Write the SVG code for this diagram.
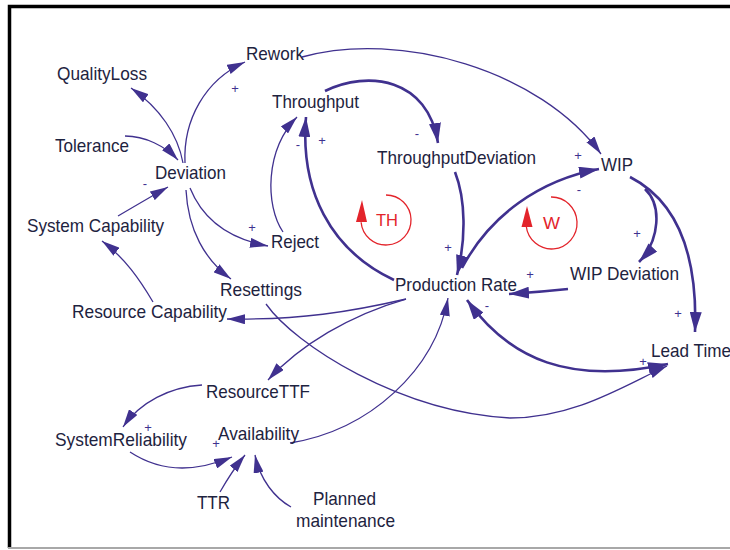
<svg xmlns="http://www.w3.org/2000/svg" width="730" height="550" viewBox="0 0 730 550">
  <style>
    .lbl { font-family: "Liberation Sans Narrow", "Liberation Sans", Arial, sans-serif; font-size: 19px; fill: #1e2340; }
    .pol { font-family: "Liberation Sans", Arial, sans-serif; font-size: 13px; fill: #40318f; text-anchor: middle; dominant-baseline: central; }
    .loop { font-family: "Liberation Sans", Arial, sans-serif; font-size: 17px; fill: #e3242b; }
    .thin { fill: none; stroke: #40318f; stroke-width: 1.3; marker-end: url(#ahs); }
    .thick { fill: none; stroke: #40318f; stroke-width: 2.6; marker-end: url(#ahl); }
    .ring { fill: none; stroke: #e3242b; stroke-width: 1.3; }
  </style>
  <defs>
    <marker id="ahs" markerUnits="userSpaceOnUse" markerWidth="18" markerHeight="10" refX="18" refY="5" orient="auto">
      <path d="M0,0 L18,5 L0,10 z" fill="#40318f"/>
    </marker>
    <marker id="ahl" markerUnits="userSpaceOnUse" markerWidth="20" markerHeight="12" refX="20" refY="6" orient="auto-start-reverse">
      <path d="M0,0 L20,6 L0,12 z" fill="#40318f"/>
    </marker>
  </defs>

  <rect width="730" height="550" fill="#ffffff"/>
  <!-- frame -->
  <path d="M9.5,548 V6.5 H730" fill="none" stroke="#000" stroke-width="3.5"/>
  <path d="M8,548 H730" fill="none" stroke="#a8a8a8" stroke-width="2"/>

  <g id="connectors">
    <path class="thin" d="M183,163 C178,135 160,108 131,88"/>
    <path class="thin" d="M125,136 C145,136 165,146 178,160"/>
    <path class="thin" d="M118,216 C135,206 152,196 168,187"/>
    <path class="thin" d="M185,163 C183,120 205,80 245,62"/>
    <path class="thin" d="M190,188 C205,225 235,240 268,246"/>
    <path class="thin" d="M186,190 C188,230 205,260 231,279"/>
    <path class="thin" d="M283,232 C265,205 265,150 297,117"/>
    <path class="thick" d="M394,280 C330,250 300,190 306,117"/>
    <path class="thick" d="M325,91 C368,70 428,78 438,143"/>
    <path class="thick" d="M455,172 C466,200 466,240 457,275"/>
    <path class="thin" d="M302,57 C400,30 540,70 601,154"/>
    <path class="thick" d="M462,268 C490,215 540,180 599,169"/>
    <path class="thick" d="M645,189 C662,205 660,240 639,262"/>
    <path class="thick" d="M630,177 C675,200 698,250 695,332"/>
    <path class="thick" d="M568,289 Q540,292 509,294"/>
    <path class="thick" d="M467,300 C510,360 570,385 668,364" marker-start="url(#ahl)"/>
    <path class="thin" d="M266,304 C295,345 400,412 510,418 C575,418 625,385 667,366"/>
    <path class="thin" d="M406,299 C350,312 300,320 227,319"/>
    <path class="thin" d="M406,299 C350,315 300,345 268,380"/>
    <path class="thin" d="M153,302 C140,280 125,258 102,241"/>
    <path class="thin" d="M202,385 C170,387 140,402 123,427"/>
    <path class="thin" d="M130,452 C165,475 200,470 232,457"/>
    <path class="thin" d="M220,492 C228,478 236,466 245,455"/>
    <path class="thin" d="M291,507 C275,498 260,480 255,455"/>
    <path class="thin" d="M290,443 C370,430 435,370 448,298"/>

    <!-- polarity signs -->
    <text class="pol" x="235" y="88">+</text>
    <text class="pol" x="145" y="183">-</text>
    <text class="pol" x="252" y="227">+</text>
    <text class="pol" x="298" y="144">-</text>
    <text class="pol" x="322" y="140">+</text>
    <text class="pol" x="417" y="133">-</text>
    <text class="pol" x="578" y="155">+</text>
    <text class="pol" x="579" y="189">-</text>
    <text class="pol" x="448" y="247">+</text>
    <text class="pol" x="530" y="274">+</text>
    <text class="pol" x="487" y="305">-</text>
    <text class="pol" x="637" y="233">+</text>
    <text class="pol" x="678" y="313">+</text>
    <text class="pol" x="643" y="361">+</text>
    <text class="pol" x="148" y="427">+</text>
    <text class="pol" x="216" y="443">+</text>
  </g>

  <!-- loop identifiers -->
  <g id="loop-TH">
    <path class="ring" d="M386,195 A25,25 0 1 1 361.1,222.2"/>
    <polygon points="362,200 356,222 367,222" fill="#e3242b"/>
    <text class="loop" x="376" y="226" textLength="22" lengthAdjust="spacingAndGlyphs">TH</text>
  </g>
  <g id="loop-W">
    <path class="ring" d="M551,197 A25.5,26 0 1 1 526.2,226"/>
    <polygon points="527,206 521.5,227 532.5,227" fill="#e3242b"/>
    <text class="loop" x="543" y="229" textLength="17" lengthAdjust="spacingAndGlyphs">W</text>
  </g>

  <g id="rework"><text class="lbl" x="246" y="60" textLength="58" lengthAdjust="spacingAndGlyphs">Rework</text></g>
  <g id="quality-loss"><text class="lbl" x="57" y="80" textLength="90" lengthAdjust="spacingAndGlyphs">QualityLoss</text></g>
  <g id="throughput"><text class="lbl" x="272" y="108" textLength="87" lengthAdjust="spacingAndGlyphs">Throughput</text></g>
  <g id="tolerance"><text class="lbl" x="55" y="152" textLength="74" lengthAdjust="spacingAndGlyphs">Tolerance</text></g>
  <g id="deviation"><text class="lbl" x="155" y="179" textLength="71" lengthAdjust="spacingAndGlyphs">Deviation</text></g>
  <g id="system-capability"><text class="lbl" x="27" y="232" textLength="137" lengthAdjust="spacingAndGlyphs">System Capability</text></g>
  <g id="reject"><text class="lbl" x="271" y="248" textLength="48" lengthAdjust="spacingAndGlyphs">Reject</text></g>
  <g id="throughput-deviation"><text class="lbl" x="377" y="164" textLength="159" lengthAdjust="spacingAndGlyphs">ThroughputDeviation</text></g>
  <g id="wip"><text class="lbl" x="601" y="171" textLength="32" lengthAdjust="spacingAndGlyphs">WIP</text></g>
  <g id="wip-deviation"><text class="lbl" x="570" y="280" textLength="109" lengthAdjust="spacingAndGlyphs">WIP Deviation</text></g>
  <g id="production-rate"><text class="lbl" x="395" y="291" textLength="122" lengthAdjust="spacingAndGlyphs">Production Rate</text></g>
  <g id="lead-time"><text class="lbl" x="651" y="357" textLength="80" lengthAdjust="spacingAndGlyphs">Lead Time</text></g>
  <g id="resettings"><text class="lbl" x="220" y="296" textLength="82" lengthAdjust="spacingAndGlyphs">Resettings</text></g>
  <g id="resource-capability"><text class="lbl" x="72" y="318" textLength="155" lengthAdjust="spacingAndGlyphs">Resource Capability</text></g>
  <g id="resource-ttf"><text class="lbl" x="206" y="398" textLength="104" lengthAdjust="spacingAndGlyphs">ResourceTTF</text></g>
  <g id="system-reliability"><text class="lbl" x="55" y="446" textLength="132" lengthAdjust="spacingAndGlyphs">SystemReliability</text></g>
  <g id="availability"><text class="lbl" x="218" y="440" textLength="81" lengthAdjust="spacingAndGlyphs">Availability</text></g>
  <g id="ttr"><text class="lbl" x="197" y="509" textLength="33" lengthAdjust="spacingAndGlyphs">TTR</text></g>
  <g id="planned-maintenance">
    <text class="lbl" x="313" y="505" textLength="63" lengthAdjust="spacingAndGlyphs">Planned</text>
    <text class="lbl" x="296" y="527" textLength="99" lengthAdjust="spacingAndGlyphs">maintenance</text>
  </g>
</svg>
